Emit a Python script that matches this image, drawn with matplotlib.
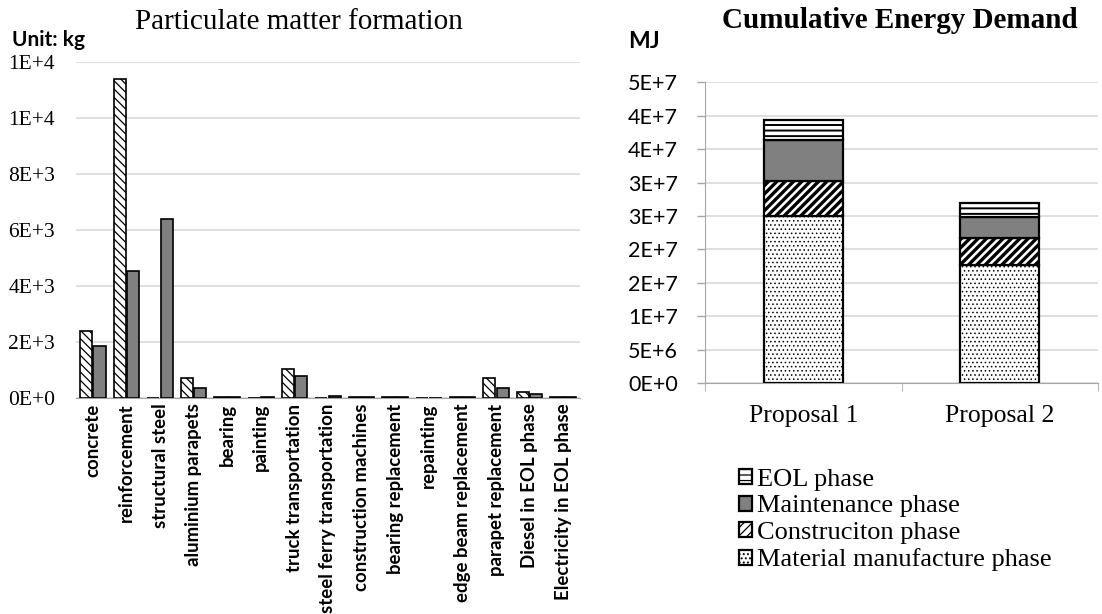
import math
import numpy as np
import matplotlib; matplotlib.use("Agg")
import matplotlib.pyplot as plt
from matplotlib.ticker import MultipleLocator, FuncFormatter

SERIF = "Liberation Serif"
SANS = "Lato"

# particulate matter formation, kg (two designs per item)
items = ["concrete", "reinforcement", "structural steel", "aluminium parapets",
         "bearing", "painting", "truck transportation", "steel ferry transportation",
         "construction machines", "bearing replacement", "repainting",
         "edge beam replacement", "parapet replacement", "Diesel in EOL phase",
         "Electricity in EOL phase"]
pm_p1 = [2400, 11380, 0, 710, 20, 0, 1030, 0, 30, 20, 0, 30, 710, 210, 40]
pm_p2 = [1840, 4550, 6390, 360, 30, 20, 770, 60, 30, 30, 15, 30, 360, 150, 40]

# cumulative energy demand, MJ
proposals = ["Proposal 1", "Proposal 2"]
phases = ["Material manufacture phase", "Construciton phase", "Maintenance phase", "EOL phase"]
ced_material = [25.0e6, 17.6e6]
ced_construction = [5.3e6, 4.1e6]
ced_maintenance = [6.1e6, 3.1e6]
ced_eol = [3.0e6, 2.2e6]


def excel_sci(v, pos=None):
    # Excel-style "0E+0" labels (half rounds up)
    if v == 0:
        return "0E+0"
    e = int(math.floor(math.log10(abs(v)) + 1e-9))
    m = int(math.floor(v / 10 ** e + 0.5 + 1e-9))
    if m == 10:
        m, e = 1, e + 1
    return f"{m}E+{e}"


fig = plt.figure(figsize=(11.02, 6.14), dpi=100)

# ---- left: particulate matter
ax = fig.add_axes([76 / 1102, 1 - 398 / 614, 504 / 1102, 336 / 614])
x = np.arange(len(items))
w = 0.36
plt.rcParams["hatch.linewidth"] = 0.9
ax.bar(x - 0.2, pm_p1, w, color="white", edgecolor="black", hatch="\\\\\\\\", lw=1.2, zorder=3)
ax.bar(x + 0.2, pm_p2, w, color="#808080", edgecolor="black", lw=1.2, zorder=3)
ax.set_xlim(-0.5, len(items) - 0.5)
ax.set_ylim(0, 12000)
ax.yaxis.set_major_locator(MultipleLocator(2000))
ax.yaxis.set_major_formatter(FuncFormatter(excel_sci))
ax.grid(axis="y", color="#d9d9d9", lw=1.2, zorder=0)
for s in ["top", "right", "left"]:
    ax.spines[s].set_visible(False)
ax.spines["bottom"].set_color("#a6a6a6")
ax.tick_params(axis="y", length=0, pad=15, labelsize=15.5)
ax.tick_params(axis="x", length=0, pad=4)
for t in ax.get_yticklabels():
    t.set_family(SERIF)
ax.set_xticks(x)
ax.set_xticklabels(items, rotation=90, family=SANS, fontweight="bold", fontsize=13.4)
fig.text(299 / 1102, 1 - 22 / 614, "Particulate matter formation", family=SERIF,
         fontsize=21, ha="center", va="center")
fig.text(12 / 1102, 1 - 40 / 614, "Unit: kg", family=SANS, fontweight="bold",
         fontsize=15, ha="left", va="center")

# ---- right: cumulative energy demand
ax2 = fig.add_axes([705 / 1102, 1 - 383 / 614, 393 / 1102, 300.6 / 614])
px = np.arange(len(proposals))
bw = 0.4
bottom = np.zeros(len(proposals))
styles = [
    (ced_material, "white", "....", "black", 0.6),
    (ced_construction, "white", "////", "black", 2.4),
    (ced_maintenance, "#808080", None, "black", 1.0),
    (ced_eol, "white", "---", "#7f7f7f", 1.4),
]
handles = []
for (vals, fc, hatch, hc, hlw), name in zip(styles, phases):
    with plt.rc_context({"hatch.linewidth": hlw, "hatch.color": hc}):
        bars = ax2.bar(px, vals, bw, bottom=bottom, color=fc, hatch=hatch,
                       edgecolor="black", lw=1.6, zorder=3, label=name)
        for b in bars:
            b._hatch_color = matplotlib.colors.to_rgba(hc)
            if hasattr(b, "set_hatch_linewidth"):
                b.set_hatch_linewidth(hlw)
        for b in bars:
            b.set_edgecolor("black")
    bottom += np.array(vals)
    handles.append(bars)
ax2.set_xlim(-0.5, 1.5)
ax2.set_ylim(0, 4.5e7)
ax2.yaxis.set_major_locator(MultipleLocator(5e6))
ax2.yaxis.set_major_formatter(FuncFormatter(excel_sci))
ax2.grid(axis="y", color="#d9d9d9", lw=1.2, zorder=0)
for s in ["top", "right"]:
    ax2.spines[s].set_visible(False)
ax2.spines["left"].set_color("#a6a6a6")
ax2.spines["bottom"].set_color("#a6a6a6")
ax2.tick_params(axis="y", length=6, width=1, color="#a6a6a6", labelsize=15.5, pad=13.5)
for t in ax2.get_yticklabels():
    t.set_family(SANS)
ax2.set_xticks(px)
ax2.set_xticklabels(proposals, family=SERIF, fontsize=18.5)
ax2.tick_params(axis="x", length=0, pad=15.5)
ax2.set_xticks([-0.5, 0.5, 1.5], minor=True)
ax2.tick_params(axis="x", which="minor", length=6, color="#a6a6a6", direction="out")
fig.text(900 / 1102, 1 - 21 / 614, "Cumulative Energy Demand", family=SERIF,
         fontweight="bold", fontsize=21, ha="center", va="center")
fig.text(628 / 1102, 1 - 42 / 614, "MJ", family=SANS, fontweight="bold",
         fontsize=16.5, ha="left", va="center")
ax2.legend(handles[::-1], phases[::-1], loc="upper left",
           bbox_to_anchor=(739 / 1102, 1 - 469 / 614), bbox_transform=fig.transFigure,
           frameon=False, prop={"family": SERIF, "size": 19},
           handlelength=0.5, handleheight=0.5, handletextpad=0.2, labelspacing=0.17,
           borderaxespad=0, borderpad=0)

fig.savefig("out.png", dpi=100)
